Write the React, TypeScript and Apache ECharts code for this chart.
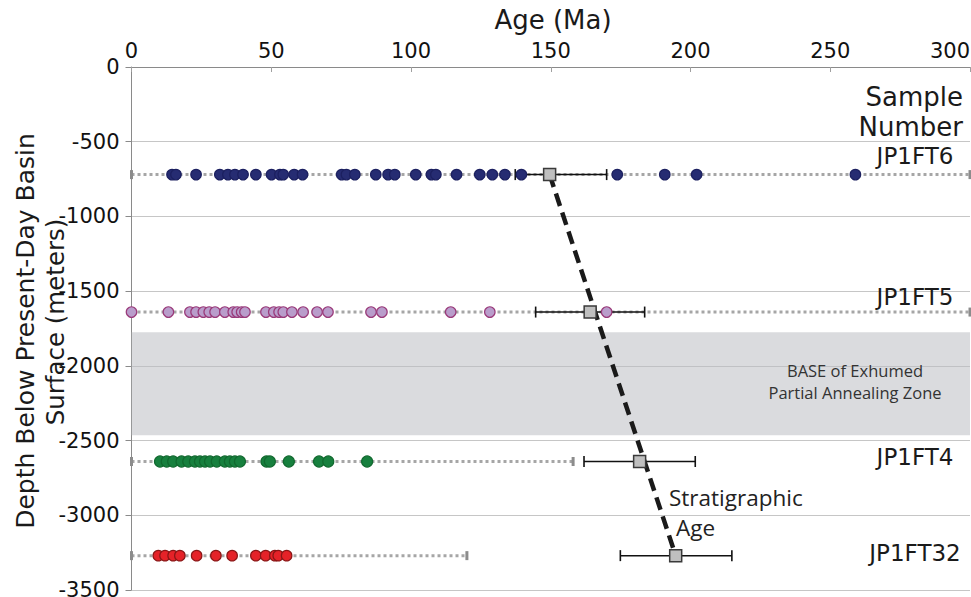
import React, { useEffect, useRef } from "react";
import * as echarts from "echarts";

// ---- data ----
const sampleNames = ["JP1FT6", "JP1FT5", "JP1FT4", "JP1FT32"];
const sampleDepths = [-720, -1640, -2640, -3270];
const rangeMin = [0, 0, 0, 0];
const rangeMax = [300, 300, 158, 120];

const jp1ft6Ages = [
  14.5, 15.9, 23.1, 31.6, 34.5, 37.0, 39.9, 44.5, 50.1, 53.1, 54.3, 58.2, 61.2,
  75.2, 76.9, 79.9, 87.4, 91.8, 94.2, 101.7, 107.3, 108.9, 116.3, 124.6, 129.1,
  133.6, 139.5, 173.8, 190.8, 202.2, 259.0,
];
const jp1ft5Ages = [
  0, 13.2, 20.9, 23.1, 25.7, 27.8, 29.9, 33.4, 36.4, 37.8, 39.4, 40.6, 48.1,
  50.9, 52.8, 54.3, 57.4, 61.4, 66.4, 70.3, 85.7, 89.6, 114.2, 128.2, 170.0,
];
const jp1ft4Ages = [
  10.2, 12.6, 14.9, 17.9, 20.3, 22.7, 24.5, 26.3, 28.1, 30.5, 33.4, 35.2, 37.0,
  38.8, 48.3, 49.5, 56.3, 67.1, 70.4, 84.3,
];
const jp1ft32Ages = [
  9.6, 12.0, 14.9, 17.3, 23.3, 30.2, 36.0, 44.5, 48.0, 51.3, 52.5, 55.5,
];

const centralAges = [149.6, 164.1, 181.8, 194.7];
const errLow = [137.3, 144.6, 161.9, 174.9];
const errHigh = [170.0, 183.6, 201.7, 214.8];

const pazTop = -1775;
const pazBottom = -2465;

const ageMin = 0;
const ageMax = 300;
const ageStep = 50;
const depthMin = -3500;
const depthMax = 0;
const depthStep = 500;

const FONT = "DejaVu Sans";
const FONT2 = "Open Sans";

export default function App() {
  const ref = useRef<HTMLDivElement>(null);

  useEffect(() => {
    if (!ref.current) return;
    const chart = echarts.init(ref.current, undefined, { renderer: "svg" });

    const dotSets = [
      { ages: jp1ft6Ages, color: "#262c72", border: "#1c2060", size: 10.5 },
      { ages: jp1ft5Ages, color: "#b99dcb", border: "#9a3a7a", size: 10.5 },
      { ages: jp1ft4Ages, color: "#17803e", border: "#11692f", size: 11 },
      { ages: jp1ft32Ages, color: "#e52228", border: "#8a1616", size: 10.5 },
    ];

    const series: any[] = [];

    // dotted range lines
    sampleDepths.forEach((d, i) => {
      const s: any = {
        type: "line",
        name: "range-" + sampleNames[i],
        data: [
          [rangeMin[i], d],
          [rangeMax[i], d],
        ],
        symbol: "rect",
        symbolSize: [3, 9],
        itemStyle: { color: "#8c8c8c" },
        lineStyle: { color: "#a6a6a6", width: 3, type: [3, 3] },
        z: 2,
        silent: true,
      };
      if (i === 0) {
        s.markArea = {
          silent: true,
          itemStyle: { color: "rgba(188,190,194,0.55)" },
          data: [
            [
              { coord: [ageMin, pazTop] },
              { coord: [ageMax, pazBottom] },
            ],
          ],
        };
      }
      series.push(s);
    });

    // error bars
    sampleDepths.forEach((d, i) => {
      series.push({
        type: "line",
        name: "err-" + sampleNames[i],
        data: [
          [errLow[i], d],
          [errHigh[i], d],
        ],
        symbol: "rect",
        symbolSize: [1.6, 11],
        itemStyle: { color: "#111" },
        lineStyle: { color: "#111", width: 1.5 },
        z: 3,
        silent: true,
      });
    });

    // single grain ages
    dotSets.forEach((ds, i) => {
      series.push({
        type: "scatter",
        name: sampleNames[i],
        data: ds.ages.map((a) => [a, sampleDepths[i]]),
        symbol: "circle",
        symbolSize: ds.size,
        itemStyle: {
          color: ds.color,
          borderColor: ds.border,
          borderWidth: 1.2,
          opacity: 1,
        },
        z: 4,
        silent: true,
      });
    });

    // stratigraphic trend line
    series.push({
      type: "line",
      name: "trend",
      data: [
        [centralAges[0], sampleDepths[0]],
        [centralAges[3], sampleDepths[3]],
      ],
      symbol: "none",
      lineStyle: { color: "#1a1a1a", width: 4.5, type: [13, 7] },
      z: 5,
      silent: true,
    });

    // central ages
    series.push({
      type: "scatter",
      name: "central",
      data: centralAges.map((a, i) => [a, sampleDepths[i]]),
      symbol: "rect",
      symbolSize: 12,
      itemStyle: {
        color: "#bfbfbf",
        borderColor: "#3a3a3a",
        borderWidth: 1.5,
        opacity: 1,
      },
      z: 6,
      silent: true,
    });

    const txt = (
      text: string,
      x: number,
      y: number,
      size: number,
      align: string,
      family = FONT,
      fill = "#1a1a1a",
      rotation = 0
    ) => ({
      type: "text",
      x,
      y,
      rotation,
      silent: true,
      z: 100,
      style: {
        text,
        fontSize: size,
        fontFamily: family,
        fill,
        align,
        verticalAlign: "middle",
      },
    });

    const labelY = [156, 297, 457, 553];

    chart.setOption({
      animation: false,
      backgroundColor: "#ffffff",
      textStyle: { fontFamily: FONT },
      grid: {
        left: 131.5,
        right: 1,
        top: 67,
        bottom: 7,
        containLabel: false,
        outerBoundsMode: "none",
      },
      xAxis: {
        type: "value",
        position: "top",
        min: ageMin,
        max: ageMax,
        interval: ageStep,
        axisLine: { show: true, lineStyle: { color: "#8a8a8a", width: 1 } },
        axisTick: {
          show: true,
          inside: true,
          length: 5,
          lineStyle: { color: "#a0a0a0" },
        },
        splitLine: { show: false },
        axisLabel: {
          fontSize: 21,
          color: "#111",
          fontFamily: FONT,
          margin: 6,
          alignMaxLabel: "right",
          formatter: (v: number) => String(v),
        },
      },
      yAxis: {
        type: "value",
        min: depthMin,
        max: depthMax,
        interval: depthStep,
        axisLine: { show: true, lineStyle: { color: "#8a8a8a", width: 1 } },
        axisTick: {
          show: true,
          inside: false,
          length: 6,
          lineStyle: { color: "#8a8a8a" },
        },
        splitLine: { show: true, lineStyle: { color: "#c6c6c6", width: 1 } },
        axisLabel: {
          fontSize: 21,
          color: "#111",
          fontFamily: FONT,
          margin: 12,
          formatter: (v: number) => String(v),
        },
      },
      series,
      graphic: [
        txt("Age (Ma)", 553, 20, 26, "center"),
        txt("Depth Below Present-Day Basin", 25, 331, 25, "center", FONT, "#1a1a1a", Math.PI / 2),
        txt("Surface (meters)", 55, 322, 24.5, "center", FONT, "#1a1a1a", Math.PI / 2),
        txt("Sample", 963, 97, 26, "right"),
        txt("Number", 963, 127, 26, "right"),
        ...sampleNames.map((n, i) => txt(n, 915, labelY[i], 23, "center")),
        txt("BASE of Exhumed", 855, 370, 16.5, "center", FONT2, "#333"),
        txt("Partial Annealing Zone", 855, 392, 16.5, "center", FONT2, "#333"),
        txt("Stratigraphic", 669, 497, 22.5, "left", FONT2, "#222"),
        txt("Age", 676, 527, 22.5, "left", FONT2, "#222"),
      ],
    });

    return () => chart.dispose();
  }, []);

  return (
    <div
      ref={ref}
      style={{ position: "fixed", left: 0, top: 0, width: 971, height: 597 }}
    />
  );
}
